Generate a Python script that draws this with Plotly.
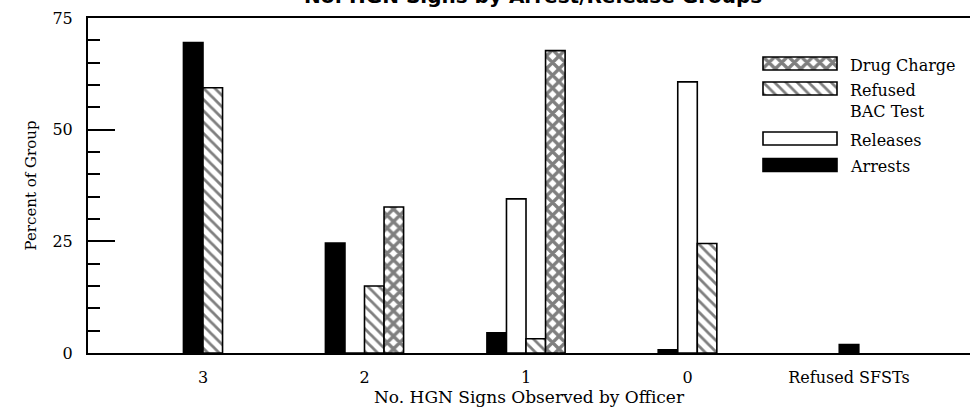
"""
No. HGN signs by arrest/release groups: grouped bar chart with hatch fills.
"""

import plotly.graph_objects as go

# --- data -----------------------------------------------------------------
categories = ["3", "2", "1", "0", "Refused SFSTs"]
arrests = [69.5, 24.6, 4.5, 0.7, 1.9]
releases = [None, 0.0, 34.5, 60.7, None]
refused_bac = [59.4, 15.0, 3.2, 24.5, None]
drug_charge = [None, 32.7, 67.7, None, None]

series_names = ["Arrests", "Releases", "Refused BAC Test", "Drug Charge"]
legend_labels = ["Drug Charge", "Refused<br>BAC Test", "Releases", "Arrests"]

# --- styling --------------------------------------------------------------
FONT = "DejaVu Serif"
TITLE_FONT = "DejaVu Sans"
W, H = 970, 410
MARGIN = dict(l=88, r=0, t=18, b=57)
BAR_W = 0.121
X_RANGE = [-0.712, 4.749]
OUTLINE = dict(color="black", width=1.6)

STYLES = {
    "Arrests": dict(color="black"),
    "Releases": dict(color="white"),
    "Refused BAC Test": dict(
        color="white",
        pattern=dict(shape="\\", fgcolor="black", bgcolor="white", size=8, solidity=0.35),
    ),
    "Drug Charge": dict(
        color="white",
        pattern=dict(shape="x", fgcolor="black", bgcolor="white", size=9, solidity=0.6),
    ),
}

# legend block (pixel coordinates on a hidden overlay axis)
LEG_X0, LEG_LEN, LEG_H = 763, 74, 13
LEG_TEXT_X = 848
LEG_ROWS = {"Drug Charge": 63.5, "Refused BAC Test": 88.5, "Releases": 138.5, "Arrests": 165}


def _positions(values_by_series):
    """Centre the bars that exist in each category around its tick."""
    xs = [[None] * len(categories) for _ in values_by_series]
    for i in range(len(categories)):
        present = [k for k, vals in enumerate(values_by_series) if vals[i] is not None]
        n = len(present)
        for j, k in enumerate(present):
            xs[k][i] = i + (j - (n - 1) / 2) * BAR_W
    return xs


values = [arrests, releases, refused_bac, drug_charge]
xpos = _positions(values)

fig = go.Figure()

for name, vals, xs in zip(series_names, values, xpos):
    pts = [(x, v) for x, v in zip(xs, vals) if v is not None]
    fig.add_trace(
        go.Bar(
            x=[p[0] for p in pts],
            y=[p[1] for p in pts],
            width=BAR_W,
            name=name,
            marker=dict(line=OUTLINE, **STYLES[name]),
            showlegend=False,
        )
    )

# legend swatches
for name, yc in LEG_ROWS.items():
    fig.add_trace(
        go.Bar(
            x=[LEG_LEN],
            y=[yc],
            base=[LEG_X0],
            width=LEG_H,
            orientation="h",
            xaxis="x2",
            yaxis="y2",
            marker=dict(line=OUTLINE, **STYLES[name]),
            showlegend=False,
            hoverinfo="skip",
        )
    )

for label, yc in zip(legend_labels, LEG_ROWS.values()):
    fig.add_annotation(
        x=LEG_TEXT_X,
        y=yc - 10,
        xref="x2",
        yref="y2",
        text=label,
        showarrow=False,
        xanchor="left",
        yanchor="top",
        align="left",
        font=dict(family=FONT, size=16, color="black"),
    )

# title (cut off at the top in the original)
fig.add_annotation(
    x=0.504, y=1, xref="paper", yref="paper", yshift=22,
    text="<b>No. HGN Signs by Arrest/Release Groups</b>",
    showarrow=False, xanchor="center", yanchor="middle",
    font=dict(family=TITLE_FONT, size=20, color="black"),
)

fig.update_layout(
    width=W,
    height=H,
    margin=MARGIN,
    barmode="overlay",
    plot_bgcolor="white",
    paper_bgcolor="white",
    font=dict(family=FONT, size=16, color="black"),
    xaxis=dict(
        range=X_RANGE,
        tickvals=list(range(len(categories))),
        ticktext=categories,
        showline=True,
        mirror=True,
        linecolor="black",
        linewidth=2,
        showgrid=False,
        zeroline=False,
        ticks="",
        ticklabelstandoff=9,
        tickfont=dict(family=FONT, size=16),
        title=dict(text="No. HGN Signs Observed by Officer", standoff=1,
                   font=dict(family=FONT, size=17)),
        fixedrange=True,
    ),
    yaxis=dict(
        range=[0, 75],
        tickvals=[0, 25, 50, 75],
        ticks="inside",
        ticklen=27,
        tickwidth=2,
        tickcolor="black",
        minor=dict(dtick=5, ticks="inside", ticklen=12, tickwidth=2, tickcolor="black"),
        showline=True,
        linecolor="black",
        linewidth=2,
        showgrid=False,
        zeroline=False,
        ticklabelstandoff=10,
        tickfont=dict(family=FONT, size=16),
        title=dict(text="Percent of Group", standoff=12, font=dict(family=FONT, size=15)),
        fixedrange=True,
    ),
    xaxis2=dict(
        overlaying="x", anchor="y2",
        range=[MARGIN["l"], W - MARGIN["r"]],
        visible=False, fixedrange=True,
    ),
    yaxis2=dict(
        overlaying="y", anchor="x2",
        range=[H - MARGIN["b"], MARGIN["t"]],
        visible=False, fixedrange=True,
    ),
)

fig.write_html(
    "out.html",
    config={"displayModeBar": False},
    post_script="document.body.style.margin='0';document.body.style.overflow='hidden';",
)
